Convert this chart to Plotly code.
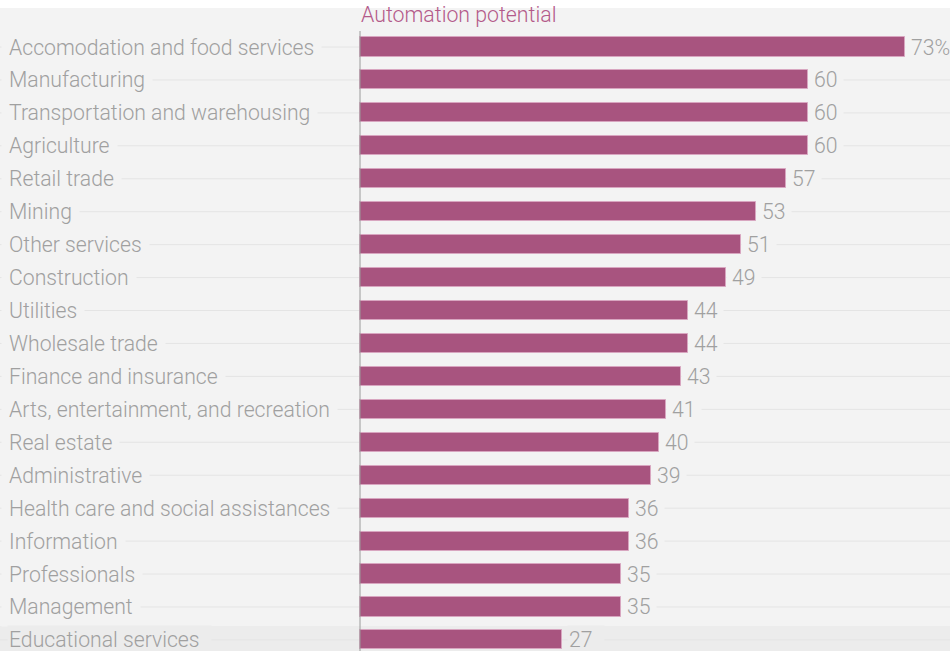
import plotly.graph_objects as go

# Share of work activities that could be automated, by industry (%)
industries = [
    "Accomodation and food services",
    "Manufacturing",
    "Transportation and warehousing",
    "Agriculture",
    "Retail trade",
    "Mining",
    "Other services",
    "Construction",
    "Utilities",
    "Wholesale trade",
    "Finance and insurance",
    "Arts, entertainment, and recreation",
    "Real estate",
    "Administrative",
    "Health care and social assistances",
    "Information",
    "Professionals",
    "Management",
    "Educational services",
]
automation_potential = [73, 60, 60, 60, 57, 53, 51, 49, 44, 44, 43, 41, 40, 39, 36, 36, 35, 35, 27]
value_labels = [f"{v}%" if i == 0 else str(v) for i, v in enumerate(automation_potential)]
chart_title = "Automation potential"

BG = "#f3f3f3"
BAND = "#ececec"
BAR = "#a8547f"
BAR_EDGE = "#d8a6c0"
TEXT = "#a0a0a0"
GRID = "#e4e4e4"
FONT = "Roboto"
SIZE = 21.2
NBSP = "\u00a0"

fig = go.Figure()

fig.add_trace(go.Bar(
    x=automation_potential,
    y=industries,
    orientation="h",
    width=0.58,
    marker=dict(color=BAR, line=dict(color=BAR_EDGE, width=1)),
    hoverinfo="skip",
))

# slightly darker band along the bottom edge (drawn first, under the gridlines)
shapes = [dict(
    type="rect", xref="paper", yref="paper", x0=0, x1=1, y0=0, y1=(651 - 626) / 643,
    fillcolor=BAND, line=dict(width=0), layer="below",
)]
annotations = []
n = len(industries)
for i, (name, val, lab) in enumerate(zip(industries, automation_potential, value_labels)):
    last = i == n - 1
    shapes.append(dict(
        type="line", xref="paper", yref="y", x0=0, x1=1, y0=name, y1=name,
        line=dict(color=GRID, width=1), layer="below",
    ))
    # the bottom row sits in a shallower band, so its label boxes are padded sideways only
    annotations.append(dict(
        xref="paper", yref="y", x=(1 if not last else 7) / 950, y=name,
        text=name + NBSP * 2 if last else name,
        xanchor="left", yanchor="middle", showarrow=False,
        font=dict(family=FONT, size=SIZE, color=TEXT, weight=300),
        bgcolor=BAND if last else BG, borderpad=1 if last else 7,
    ))
    annotations.append(dict(
        xref="x", yref="y", x=val, y=name,
        text=lab + NBSP * 2 if last else lab,
        xanchor="left", yanchor="middle", showarrow=False, xshift=(0 if not last else 5),
        font=dict(family=FONT, size=SIZE, color=TEXT, weight=300),
        bgcolor=BAND if last else BG, borderpad=1 if last else 5,
    ))

# heading just above the first bar
annotations.append(dict(
    xref="x", yref="paper", x=0, y=1.0, text=chart_title,
    xanchor="left", yanchor="top", showarrow=False, yshift=8, xshift=-1,
    font=dict(family=FONT, size=21.3, color="#b35a8a", weight=300),
))

# vertical baseline at zero
shapes.append(dict(
    type="line", xref="x", yref="paper", x0=0, x1=0, y0=0, y1=(651 - 31) / 643,
    line=dict(color="#9a9a9a", width=1), layer="above",
))

px_per_unit = (905 - 360) / 73
x_min = -360 / px_per_unit
x_max = x_min + 950 / px_per_unit
row = 32.94
y_top = (8 - 47) / row
y_bottom = (651 - 47) / row

fig.update_layout(
    width=950,
    height=651,
    margin=dict(l=0, r=0, t=8, b=0),
    paper_bgcolor="white",
    plot_bgcolor=BG,
    showlegend=False,
    bargap=0,
    xaxis=dict(range=[x_min, x_max], visible=False, fixedrange=True),
    yaxis=dict(
        type="category",
        categoryorder="array",
        categoryarray=industries,
        range=[y_bottom, y_top],
        visible=False,
        fixedrange=True,
    ),
    shapes=shapes,
    annotations=annotations,
)

fig.write_html("out.html")
